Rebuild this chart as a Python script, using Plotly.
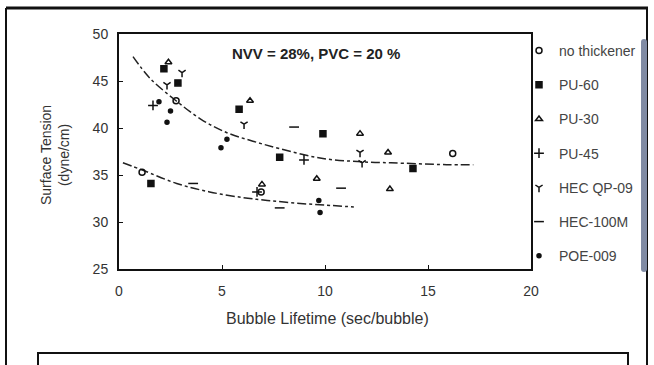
import plotly.graph_objects as go

# ---- data ----
no_thick_x = [2.77, 1.12, 6.9, 16.2]
no_thick_y = [42.9, 35.3, 33.2, 37.3]
pu60_x = [2.18, 2.86, 5.83, 7.8, 9.9, 14.27, 1.55]
pu60_y = [46.3, 44.8, 42.0, 36.9, 39.4, 35.7, 34.1]
pu30_x = [2.4, 6.36, 11.7, 13.06, 6.94, 9.6, 13.15]
pu30_y = [47.0, 42.9, 39.4, 37.4, 34.0, 34.6, 33.5]
pu45_x = [1.65, 8.98, 6.7]
pu45_y = [42.4, 36.6, 33.2]
hecqp_x = [2.33, 6.07, 11.8, 11.7, 3.06]
hecqp_y = [44.6, 40.4, 36.3, 37.4, 45.9]
hec100_x = [8.5, 10.78, 3.6, 7.8]
hec100_y = [40.1, 33.6, 34.1, 31.5]
poe_x = [1.94, 4.95, 9.76, 2.33, 2.5, 5.24, 9.7]
poe_y = [42.8, 37.9, 31.0, 40.6, 41.8, 38.8, 32.3]

upper_fit_x = [0.68, 1.5, 2.77, 4.0, 5.24, 6.5, 7.8, 9.76, 11.8, 13.2, 15.9, 17.2]
upper_fit_y = [47.6, 45.3, 42.9, 40.9, 39.5, 38.6, 37.8, 36.8, 36.4, 36.3, 36.1, 36.1]
lower_fit_x = [0.19, 1.17, 2.8, 4.4, 6.0, 7.2, 8.6, 10.0, 11.4]
lower_fit_y = [36.3, 35.5, 34.1, 33.2, 32.6, 32.3, 32.0, 31.8, 31.6]

series = [
    ("no thickener", no_thick_x, no_thick_y, "circle-open", 6),
    ("PU-60", pu60_x, pu60_y, "square", 6),
    ("PU-30", pu30_x, pu30_y, "triangle-up-open", 6),
    ("PU-45", pu45_x, pu45_y, "cross-thin-open", 7),
    ("HEC QP-09", hecqp_x, hecqp_y, "y-down-open", 6),
    ("HEC-100M", hec100_x, hec100_y, "line-ew-open", 7),
    ("POE-009", poe_x, poe_y, "circle", 4),
]

fig = go.Figure()
for fx, fy in [(upper_fit_x, upper_fit_y), (lower_fit_x, lower_fit_y)]:
    fig.add_trace(go.Scatter(x=fx, y=fy, mode="lines", showlegend=False,
                             line=dict(color="#222", width=1.5, dash="dashdot", shape="spline"),
                             hoverinfo="skip"))

for i, (name, xs, ys, sym, sz) in enumerate(series):
    fig.add_trace(go.Scatter(x=xs, y=ys, mode="markers", name=name, legendgroup=f"g{i}",
                             marker=dict(symbol=sym, size=sz, color="#111",
                                         line=dict(color="#111", width=1.5))))

# pixel -> paper helpers
def px(v):
    return (v - 119) / 412.0

def py(v):
    return (269 - v) / 235.0

shapes = [
    dict(type="line", xref="paper", yref="paper", x0=px(6), x1=px(648), y0=py(8), y1=py(8),
         line=dict(color="#111", width=3)),
    dict(type="line", xref="paper", yref="paper", x0=px(6), x1=px(6), y0=py(8), y1=py(366),
         line=dict(color="#111", width=2)),
    dict(type="line", xref="paper", yref="paper", x0=px(647), x1=px(647), y0=py(8), y1=py(366),
         line=dict(color="#111", width=2)),
    dict(type="line", xref="paper", yref="paper", x0=px(37), x1=px(629), y0=py(353), y1=py(353),
         line=dict(color="#111", width=2)),
    dict(type="line", xref="paper", yref="paper", x0=px(38), x1=px(38), y0=py(353), y1=py(366),
         line=dict(color="#111", width=2)),
    dict(type="line", xref="paper", yref="paper", x0=px(628), x1=px(628), y0=py(353), y1=py(366),
         line=dict(color="#111", width=2)),
]

annotations = [
    dict(text="<b>NVV = 28%, PVC = 20 %</b>", xref="paper", yref="paper", x=px(316), y=py(53),
         xanchor="center", yanchor="middle",
         showarrow=False, font=dict(size=15, color="#222")),
    dict(text="Bubble Lifetime (sec/bubble)", xref="paper", yref="paper", x=px(327), y=py(318),
         xanchor="center", yanchor="middle",
         showarrow=False, font=dict(size=16, color="#333")),
    dict(text="Surface Tension<br>(dyne/cm)", xref="paper", yref="paper", x=px(55), y=py(155),
         xanchor="center", yanchor="middle",
         textangle=-90, showarrow=False, font=dict(size=14, color="#333")),
]

fig.update_layout(
    width=654, height=365,
    margin=dict(l=119, r=123, t=34, b=96),
    paper_bgcolor="white", plot_bgcolor="white",
    font=dict(family="Liberation Sans, Arial, sans-serif", size=14, color="#333"),
    shapes=shapes, annotations=annotations,
    legend=dict(x=px(519), y=py(35), xanchor="left", yanchor="top",
                font=dict(size=14, color="#444"), tracegroupgap=13,
                bgcolor="rgba(0,0,0,0)", itemwidth=30),
    xaxis=dict(range=[0, 20], tickvals=[0, 5, 10, 15, 20], showgrid=False, zeroline=False,
               showline=True, linecolor="#111", linewidth=2, mirror=True,
               ticks="inside", ticklen=4, tickcolor="#111", ticklabelstandoff=8,
               tickfont=dict(size=14, color="#333")),
    yaxis=dict(range=[25, 50], tickvals=[25, 30, 35, 40, 45, 50], showgrid=False, zeroline=False,
               showline=True, linecolor="#111", linewidth=2, mirror=True,
               ticks="inside", ticklen=4, tickcolor="#111", ticklabelstandoff=6,
               tickfont=dict(size=14, color="#333")),
)

fig.write_html("out.html")
